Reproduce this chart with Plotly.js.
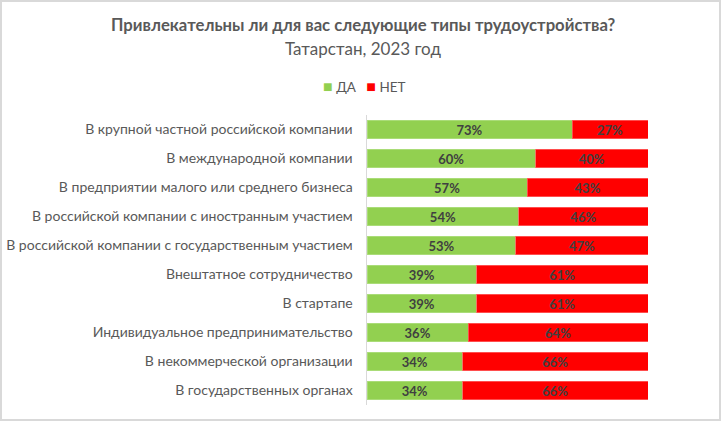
<!DOCTYPE html>
<html>
<head>
<meta charset="utf-8">
<script src="https://cdn.plot.ly/plotly-3.0.1.min.js"></script>
<style>
html,body{margin:0;padding:0;background:#fff;}
#wrap{width:723px;height:423px;position:relative;}
#chart{width:723px;height:423px;}
#frame{position:absolute;left:0;top:0;width:721px;height:421px;border:2px solid #d9d9d9;box-sizing:border-box;pointer-events:none;}
</style>
</head>
<body>
<div id="wrap"><div id="chart"></div><div id="frame"></div></div>
<script>
const categories = [
  "В крупной частной российской компании",
  "В международной компании",
  "В предприятии малого или среднего бизнеса",
  "В российской компании с иностранным участием",
  "В российской компании с государственным участием",
  "Внештатное сотрудничество",
  "В стартапе",
  "Индивидуальное предпринимательство",
  "В некоммерческой организации",
  "В государственных органах"
];
const yesValues = [73, 60, 57, 54, 53, 39, 39, 36, 34, 34];
const noValues  = [27, 40, 43, 46, 47, 61, 61, 64, 66, 66];
const seriesNames = ["ДА", "НЕТ"];
const seriesColors = ["#92D050", "#FF0000"];
const titleText = "Привлекательны ли для вас следующие типы трудоустройства?";
const subtitleText = "Татарстан, 2023 год";

const FONT = "Lato, 'Open Sans', sans-serif";
const W = 723, H = 423;
const M = {l: 367, r: 75, t: 115, b: 18};
const PW = W - M.l - M.r, PH = H - M.t - M.b;
const px = x => (x - M.l) / PW;
const py = y => (H - M.b - y) / PH;

const valueFont = {family: FONT, size: 13, color: "#404040"};

const traces = [yesValues, noValues].map((vals, i) => ({
  type: "bar", orientation: "h", name: seriesNames[i],
  y: categories, x: vals,
  marker: {color: seriesColors[i], line: {color: i ? "#ff6060" : "#b0de82", width: 0.8}},
  texttemplate: "<b>%{x}%</b>", textposition: "inside", insidetextanchor: "middle",
  constraintext: "none", cliponaxis: false,
  textfont: valueFont, hoverinfo: "skip", showlegend: false
}));

const legendText =
  '<span style="color:' + seriesColors[0] + ';font-size:16px">■</span> ' + seriesNames[0] +
  '   <span style="color:' + seriesColors[1] + ';font-size:16px">■</span> ' + seriesNames[1];

const layout = {
  width: W, height: H,
  margin: {l: M.l, r: M.r, t: M.t, b: M.b, pad: 0},
  paper_bgcolor: "#ffffff", plot_bgcolor: "#ffffff",
  barmode: "stack", bargap: 0.35,
  font: {family: FONT, color: "#595959"},
  showlegend: false,
  annotations: [
    {text: "<b>" + titleText + "</b>", xref: "paper", yref: "paper",
     x: px(362.5), y: py(25), xanchor: "center", yanchor: "middle", showarrow: false,
     font: {family: FONT, size: 16.7, color: "#595959"}},
    {text: subtitleText, xref: "paper", yref: "paper",
     x: px(362.5), y: py(48), xanchor: "center", yanchor: "middle", showarrow: false,
     font: {family: FONT, size: 17, color: "#595959"}},
    {text: legendText, xref: "paper", yref: "paper",
     x: px(364), y: py(85), xanchor: "center", yanchor: "middle", showarrow: false,
     font: {family: FONT, size: 13.5, color: "#595959"}}
  ],
  xaxis: {range: [0, 100], visible: false, fixedrange: true},
  yaxis: {
    type: "category", autorange: "reversed",
    showgrid: false, zeroline: false,
    showline: true, linecolor: "#d9d9d9", linewidth: 1.5,
    ticks: "", ticklabelstandoff: 10,
    tickfont: {family: FONT, size: 14, color: "#595959"},
    fixedrange: true
  }
};

Plotly.newPlot("chart", traces, layout, {displayModeBar: false, staticPlot: true});
</script>
</body>
</html>
